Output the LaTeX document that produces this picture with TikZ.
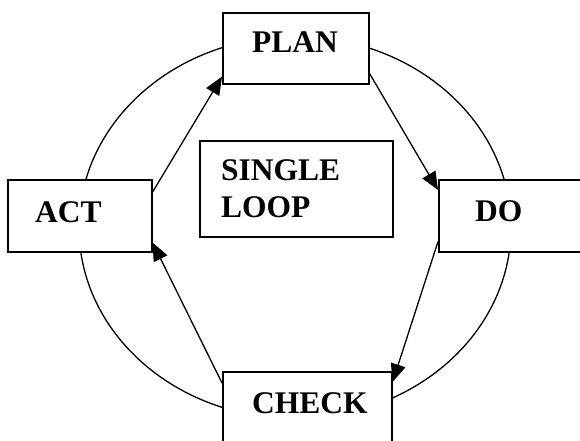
\documentclass[tikz,border=0pt]{standalone}
\usepackage{fontspec}
\setmainfont{Liberation Serif}
\usetikzlibrary{arrows.meta,calc}
\begin{document}
\begin{tikzpicture}[x=1pt,y=-1pt,
  box/.style={draw,line width=1.6pt,fill=white,inner sep=0pt,anchor=north west},
  lbl/.style={inner sep=0pt,anchor=base west,font=\fontsize{31.5}{37}\selectfont\bfseries},
  flow/.style={line width=1.3pt,-{Triangle[length=18pt,width=15pt]}}]
\useasboundingbox (0,0) rectangle (580,441);
\clip (0,0) rectangle (580,441);
\draw[line width=1.3pt] (295,227.5) ellipse [x radius=216pt, y radius=191pt];
\node[box,minimum width=146pt,minimum height=71pt] (plan) at (222,12) {};
\node[box,minimum width=144pt,minimum height=72pt] (act) at (7,179) {};
\node[box,minimum width=144pt,minimum height=72pt] (do) at (438,179) {};
\node[box,minimum width=169pt,minimum height=72pt] (check) at (222,371) {};
\node[box,minimum width=193pt,minimum height=96pt] (loop) at (199,140) {};
\node[lbl] (planT) at (252,53) {PLAN};
\node[lbl] (actT) at (35,222) {ACT};
\node[lbl] (doT) at (475,221) {DO};
\node[lbl] (checkT) at (252,413) {CHECK};
\node[lbl] (singleT) at (221,180) {SINGLE};
\node[lbl] (loopT) at (221,217) {LOOP};
\draw[flow] ($(act.north east)+(0,13)$) -- ($(plan.south west)+(0,-8)$);
\draw[flow] ($(plan.south east)+(0,-11)$) -- ($(do.north west)+(0,11)$);
\draw[flow] ($(do.south west)+(0,-11)$) -- ($(check.north east)+(0,11)$);
\draw[flow] ($(check.north west)+(0,12)$) -- ($(act.south east)+(0,-10)$);
\end{tikzpicture}
\end{document}
